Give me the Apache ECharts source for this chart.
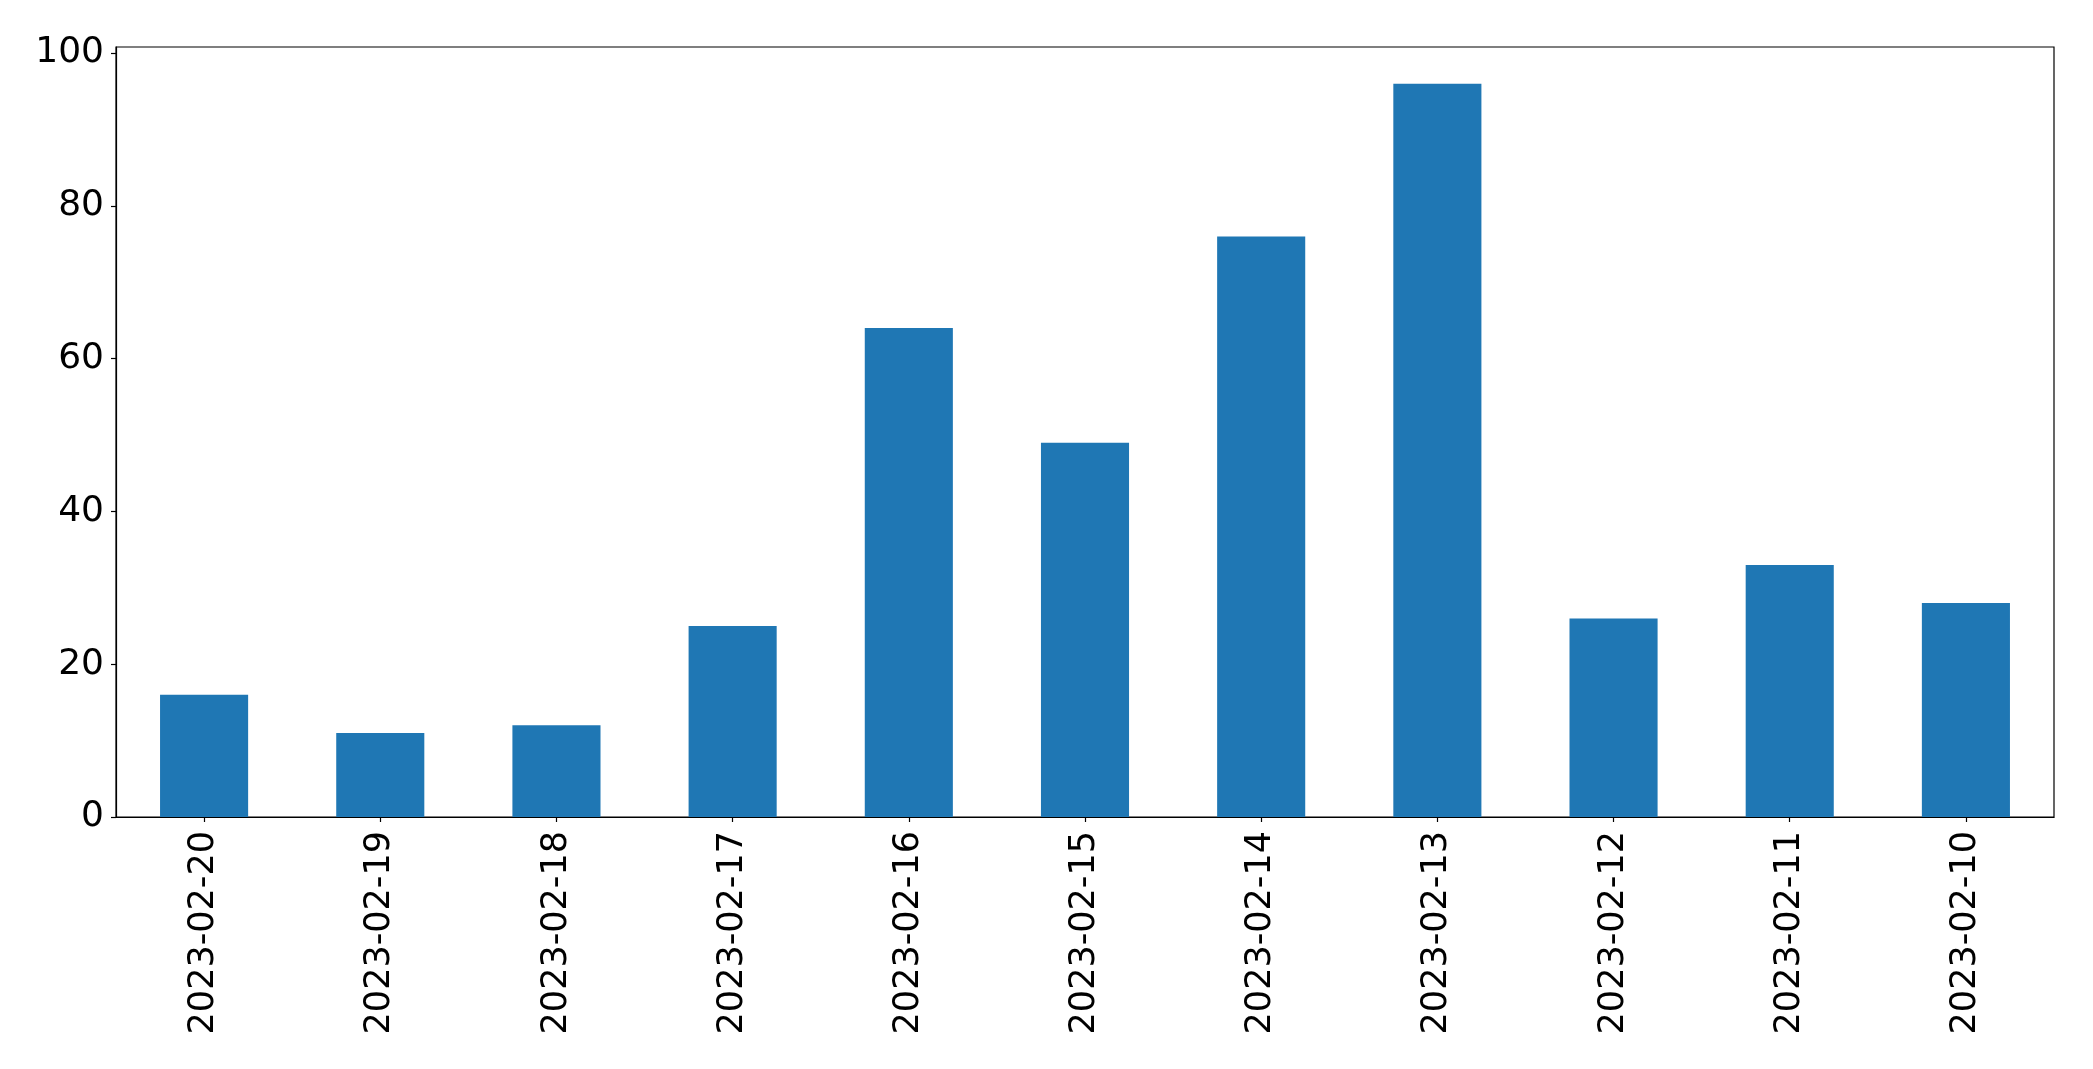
<!DOCTYPE html>
<html>
<head>
<meta charset="utf-8">
<script src="https://cdn.jsdelivr.net/npm/echarts@6/dist/echarts.min.js"></script>
<style>
  html, body { margin: 0; padding: 0; background: #fff; }
  #bar-chart { width: 2093px; height: 1069px; }
</style>
</head>
<body>
<div id="bar-chart"></div>
<script>
// data
var dates = ['2023-02-20', '2023-02-19', '2023-02-18', '2023-02-17', '2023-02-16', '2023-02-15',
             '2023-02-14', '2023-02-13', '2023-02-12', '2023-02-11', '2023-02-10'];
var counts = [16, 11, 12, 25, 64, 49, 76, 96, 26, 33, 28];
var yTicks = [0, 20, 40, 60, 80, 100];

var barchart = "";
function barchar() {
    barchart = echarts.init(document.getElementById("bar-chart"));
    var font = 'DejaVu Sans';
    var option = {
        animation: false,
        grid: {
            left: 116,
            right: 39,
            top: 47,
            bottom: 252,
            show: true,
            borderColor: '#000',
            borderWidth: 1.2,
            containLabel: false
        },
        xAxis: {
            type: 'category',
            data: dates,
            axisLine: { show: true, lineStyle: { color: '#000', width: 1.2 } },
            axisTick: { show: true, alignWithLabel: true, length: 5, lineStyle: { color: '#000', width: 1.2 } },
            axisLabel: {
                rotate: 90,
                margin: 14,
                color: '#000',
                fontFamily: font,
                fontSize: 35,
                interval: 0
            },
            splitLine: { show: false }
        },
        yAxis: {
            type: 'value',
            min: 0,
            max: 100.8,   // matplotlib style headroom (96 * 1.05)
            interval: 20,
            axisLine: { show: true, lineStyle: { color: '#000', width: 1.2 } },
            axisTick: { show: true, length: 5, lineStyle: { color: '#000', width: 1.2 } },
            axisLabel: {
                margin: 12,
                color: '#000',
                fontFamily: font,
                fontSize: 36,
                padding: [6, 0, 0, 0],
                showMaxLabel: false,
                formatter: function (v) {
                    return yTicks.indexOf(v) >= 0 ? String(v) : '';
                }
            },
            splitLine: { show: false }
        },
        series: [{
            type: 'bar',
            data: counts,
            barWidth: '50%',
            itemStyle: { color: '#1f77b4' }
        }]
    };
    barchart.setOption(option);
}
barchar();
</script>
</body>
</html>
